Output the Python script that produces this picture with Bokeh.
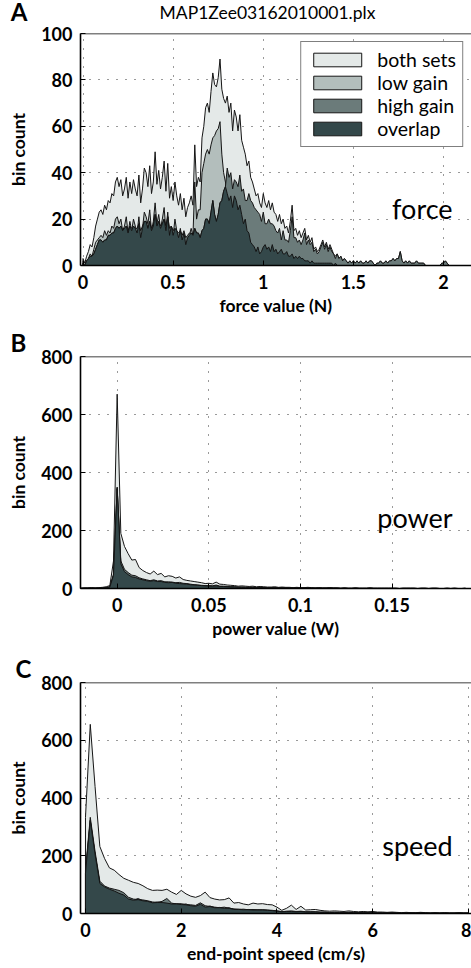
import numpy as np
from bokeh.plotting import figure
from bokeh.layouts import column
from bokeh.models import (Range1d, FixedTicker, CustomJSTickFormatter, Label,
                          Legend, LegendItem, Span)
from bokeh.embed import file_html
from bokeh.resources import INLINE

FONT = "Lato"
TITLE = "MAP1Zee03162010001.plx"
SERIES = ["both sets", "low gain", "high gain", "overlap"]
COLORS = ["#e4e9e8", "#b3bebc", "#6b7b7a", "#34484a"]

# ---------------- Panel A : force ----------------
A_X0, A_DX = 0.0, 0.01
A_BOTH = [3,1,4,6,9,8,12,17,20,23,
          24,22,26,24,28,27,31,30,36,38,
          34,37,30,33,38,29,36,31,37,33,
          30,39,27,33,42,40,34,43,31,36,
          49,35,41,33,38,45,32,44,29,34,
          28,36,30,26,31,24,29,21,25,27,
          30,26,52,34,38,36,55,60,68,70,
          66,75,83,78,77,81,89,76,72,70,
          73,66,70,58,67,64,58,65,54,51,
          48,43,45,38,36,33,30,31,27,25,
          31,27,25,28,24,27,23,22,19,22,
          18,20,16,17,14,19,26,15,16,13,
          15,12,14,16,11,13,10,12,7,8,
          6,7,9,11,8,10,7,9,7,5,
          4,5,3,4,2,3,2,1,2,1,
          2,
          1,2,1,2,1,1,2,1,2,2,
          1,0,1,1,2,1,1,2,1,2,
          2,3,2,3,3,6,2,1,2,1,
          2,1,1,1,2,1,1,1,1,0,
          0,0,0,0,0,0,0,0,1,1,
          2,1,0,0,0,0,0,0,0,0]
A_LOW = [2,1,2,3,5,4,7,10,11,12,
         13,12,15,13,15,14,17,16,20,21,
         18,20,15,17,21,14,19,15,20,17,
         14,21,12,16,23,21,18,24,15,19,
         27,18,22,16,20,25,15,23,13,17,
         13,20,15,12,16,11,14,9,12,13,
         16,13,36,20,24,24,40,44,48,50,
         48,52,55,56,58,59,62,48,40,36,
         31,28,30,25,30,28,24,26,22,18,
         20,15,14,10,9,8,6,8,5,6,
         8,9,7,8,6,9,6,7,5,6,
         7,5,5,6,4,4,5,3,4,3,
         4,3,3,2,2,2,1,2,1,1,
         1,1,1,1,1,1,1,1,1,0,
         1,0,0,0,0,0,0,0,0,0,
         0,
         0,0,0,0,0,0,0,0,0,0,
         0,0,0,0,0,0,0,0,0,0,
         0,0,0,0,0,0,0,0,0,0,
         0,0,0,0,0,0,0,0,0,0,
         0,0,0,0,0,0,0,0,0,0,
         0,0,0,0,0,0,0,0,0,0]
A_HIGH = [1,0,2,3,4,4,5,7,9,11,
          11,10,11,11,13,13,14,14,16,17,
          16,17,15,16,17,15,17,16,17,16,
          16,18,15,17,19,19,16,19,16,17,
          22,17,19,17,18,20,17,21,16,17,
          15,16,15,14,15,13,15,12,13,14,
          14,13,16,14,14,12,15,16,20,20,
          18,23,28,22,19,22,27,28,32,34,
          42,38,40,33,37,36,34,39,32,33,
          28,28,31,28,27,25,24,23,22,19,
          23,18,18,20,18,18,17,15,14,16,
          11,15,11,11,10,15,21,12,12,10,
          11,9,11,14,9,11,9,10,6,7,
          5,6,8,10,7,9,6,8,6,5,
          3,5,3,4,2,3,2,1,2,1,
          2,
          1,2,1,2,1,1,2,1,2,2,
          1,0,1,1,2,1,1,2,1,2,
          2,3,2,3,3,6,2,1,2,1,
          2,1,1,1,2,1,1,1,1,0,
          0,0,0,0,0,0,0,0,1,1,
          2,1,0,0,0,0,0,0,0,0]
A_XTICKS = [0, 0.5, 1, 1.5, 2]
A_YTICKS = [0, 20, 40, 60, 80, 100]

# ---------------- Panel B : power ----------------
B_X0, B_DX = -0.02, 0.002
B_BOTH = [1,2,2,3,2,3,4,6,10,95,
          670,190,145,120,98,100,72,62,55,50,
          60,48,52,40,44,42,36,40,31,28,
          26,24,22,20,17,18,16,22,15,14,
          12,11,10,8,9,8,7,8,6,7,
          6,5,5,6,4,5,4,4,3,4,
          3,3,4,3,2,3,2,2,3,2,
          2,1,2,1,1,2,1,1,1,2,
          1,1,1,1,1,1,1,0,1,1,
          1,1,0,1,1,0,1,1,0,0,
          1,0,1,0,0,1]
B_LOW = [0,1,1,1,1,1,2,3,5,45,
         345,85,58,48,40,38,33,30,27,25,
         27,24,24,21,20,21,18,17,16,15,
         13,12,11,10,9,8,8,9,7,7,
         6,5,5,4,4,4,3,4,3,3,
         3,2,2,3,2,2,2,2,1,2,
         1,1,2,1,1,1,1,1,1,1,
         1,0,1,0,0,1,0,0,0,1,
         0,0,0,0,0,0,0,0,0,0,
         0,0,0,0,0,0,0,0,0,0,
         0,0,0,0,0,0]
B_HIGH = [1,1,1,2,1,2,2,3,5,50,
          350,95,66,55,46,44,37,33,30,27,
          30,26,27,23,23,22,20,21,18,17,
          15,13,12,11,10,10,9,12,8,8,
          7,6,6,5,5,4,4,4,3,4,
          3,3,3,3,2,3,2,2,2,2,
          2,2,2,2,1,2,1,1,2,1,
          1,1,1,1,1,1,1,1,1,1,
          1,1,1,1,1,1,1,0,1,1,
          1,1,0,1,1,0,1,1,0,0,
          1,0,1,0,0,1]
B_XTICKS = [0, 0.05, 0.1, 0.15]
B_YTICKS = [0, 200, 400, 600, 800]

# ---------------- Panel C : speed ----------------
C_X0, C_DX = 0.0, 0.1
C_BOTH = [333,655,440,232,190,158,150,135,122,115,
          108,104,96,86,80,81,80,84,74,66,
          80,68,60,56,62,74,55,50,47,48,
          54,36,38,33,30,36,33,34,31,30,
          22,11,18,29,14,25,12,13,14,11,
          9,8,9,8,7,9,7,6,7,6,
          7,5,5,4,5,4,3,4,3,3,
          4,3,2,3,2,3,2,2,3,2,
          2]
C_LOW = [139,322,205,104,92,84,78,70,64,50,
         46,52,44,42,37,40,38,36,33,34,
         31,33,27,25,32,22,26,20,21,18,
         20,14,15,13,14,12,13,12,11,10,
         8,6,8,7,6,7,5,5,5,4,
         4,3,4,3,3,4,3,3,2,3,
         2,2,2,2,2,2,1,2,1,1,
         2,1,1,1,1,1,1,1,1,1,
         1]
C_HIGH = [150,333,215,112,95,88,84,80,72,56,
          50,48,47,44,40,38,42,52,36,33,
          34,30,30,28,37,27,24,22,20,22,
          18,16,14,15,13,14,12,13,12,11,
          9,7,7,9,7,8,6,6,6,5,
          5,4,4,4,3,4,4,3,3,3,
          3,3,2,2,3,2,2,2,2,2,
          2,2,1,2,1,2,1,1,2,1,
          1]
C_XTICKS = [0, 2, 4, 6, 8]
C_YTICKS = [0, 200, 400, 600, 800]


def header(height, letter, title):
    # frame spans x = 80..471 (aligned with the panels); data units = pixels
    h = figure(width=471, height=height, x_range=Range1d(0, 391), y_range=Range1d(height, 0),
               output_backend="svg", toolbar_location=None, x_axis_type=None, title=None,
               min_border_left=80, min_border_right=0,
               min_border_top=0, min_border_bottom=0)
    h.outline_line_color = None
    h.grid.visible = False
    ax = h.yaxis[0]
    ax.ticker = FixedTicker(ticks=[])
    ax.axis_line_color = None
    ax.major_tick_line_color = None
    ax.minor_tick_line_color = None
    ax.major_label_standoff = 0
    ax.axis_label = letter
    ax.axis_label_orientation = "horizontal"
    ax.axis_label_text_font = FONT
    ax.axis_label_text_font_size = "24px"
    ax.axis_label_text_font_style = "bold"
    ax.axis_label_text_color = "black"
    ax.axis_label_standoff = 53
    h.add_layout(Label(x=187, y=12, text=title, text_font=FONT, text_font_size="17.5px",
                       text_align="center", text_baseline="alphabetic", text_color="black"))
    return h


def make_panel(x0, dx, both, low, high, xr, yr, xticks, yticks, xlabel,
               height, top, bottom, word, word_xy, letter=None, letter_dx=-70,
               legend=False):
    p = figure(width=471, height=height, x_range=Range1d(*xr), y_range=Range1d(*yr),
               output_backend="svg", toolbar_location=None,
               min_border_left=80, min_border_right=0,
               min_border_top=top, min_border_bottom=bottom)
    p.outline_line_color = None
    p.background_fill_color = "white"
    p.border_fill_color = "white"

    x = x0 + dx * np.arange(len(both))
    both = np.asarray(both, float)
    low = np.asarray(low, float)
    high = np.asarray(high, float)
    overlap = np.minimum(low, high)

    rends = []
    for vals, col in zip([both, low, high, overlap], COLORS):
        xs = np.concatenate([[x[0]], x, [x[-1]]])
        ys = np.concatenate([[0.0], vals, [0.0]])
        r = p.patch(xs, ys, fill_color=col, line_color="#151515", line_width=1)
        rends.append(r)

    fmt = CustomJSTickFormatter(code="return tick.toString();")
    for ax in [p.xaxis[0], p.yaxis[0]]:
        ax.axis_line_width = 1.6
        ax.axis_line_color = "black"
        ax.major_tick_in = 5
        ax.major_tick_out = 0
        ax.major_tick_line_color = "black"
        ax.minor_tick_line_color = None
        ax.major_label_text_font = FONT
        ax.major_label_text_font_style = "bold"
        ax.major_label_text_font_size = "18px"
        ax.major_label_text_color = "black"
        ax.axis_label_text_font = FONT
        ax.axis_label_text_font_style = "bold"
        ax.axis_label_text_font_size = "17.5px"
        ax.axis_label_text_color = "black"
        ax.formatter = fmt
    p.xaxis[0].ticker = FixedTicker(ticks=xticks)
    p.yaxis[0].ticker = FixedTicker(ticks=yticks)
    p.xaxis[0].axis_label = xlabel
    p.yaxis[0].axis_label = "bin count"
    p.xaxis[0].major_label_standoff = 9
    p.xaxis[0].axis_label_standoff = 3
    p.yaxis[0].major_label_standoff = 8
    p.yaxis[0].axis_label_standoff = 9

    # top border of the box
    p.add_layout(Span(location=yr[1], dimension="width", line_color="black", line_width=1.6))

    for g in [p.xgrid[0], p.ygrid[0]]:
        g.grid_line_color = "#111111"
        g.grid_line_alpha = 0.85
        g.grid_line_dash = "1 8"
        g.grid_line_width = 1
    p.xgrid[0].ticker = FixedTicker(ticks=xticks)
    p.ygrid[0].ticker = FixedTicker(ticks=yticks)

    p.add_layout(Label(x=word_xy[0], y=word_xy[1], text=word, text_font=FONT,
                       text_font_size="27px", text_align="right",
                       text_baseline="alphabetic", text_color="black"))
    if letter:
        p.title.text = letter
        p.title.align = "left"
        p.title.offset = letter_dx
        p.title.standoff = 0
        p.title.vertical_align = "bottom"
        p.title.text_font = FONT
        p.title.text_font_size = "24px"
        p.title.text_font_style = "bold"
        p.title.text_color = "black"
    if legend:
        lg = Legend(items=[LegendItem(label=s, renderers=[r]) for s, r in zip(SERIES, rends)],
                    location="top_right")
        lg.glyph_width = 60
        lg.glyph_height = 17
        lg.label_height = 17
        lg.label_text_font = FONT
        lg.label_text_font_size = "19.5px"
        lg.label_text_color = "black"
        lg.label_standoff = 10
        lg.spacing = 0
        lg.padding = 6
        lg.margin = 8
        lg.border_line_color = "black"
        lg.border_line_width = 1.5
        lg.background_fill_alpha = 1
        p.add_layout(lg)
    return p


hA = header(22, "A", TITLE)
pA = make_panel(A_X0, A_DX, A_BOTH, A_LOW, A_HIGH, (-0.0139, 2.155), (0, 100),
                A_XTICKS, A_YTICKS, "force value (N)", 298, 11, 55,
                "force", (2.05, 24.5), legend=True)
pB = make_panel(B_X0, B_DX, B_BOTH, B_LOW, B_HIGH, (-0.02, 0.1933), (0, 800),
                B_XTICKS, B_YTICKS, "power value (W)", 325, 36, 57,
                "power", (0.183, 245), letter="B", letter_dx=-70)
pC = make_panel(C_X0, C_DX, C_BOTH, C_LOW, C_HIGH, (-0.104, 8.063), (0, 800),
                C_XTICKS, C_YTICKS, "end-point speed (cm/s)", 323, 37, 55,
                "speed", (7.67, 235), letter="C", letter_dx=-65)

layout = column(hA, pA, pB, pC, spacing=0)
open("out.html", "w").write(file_html(layout, INLINE))
